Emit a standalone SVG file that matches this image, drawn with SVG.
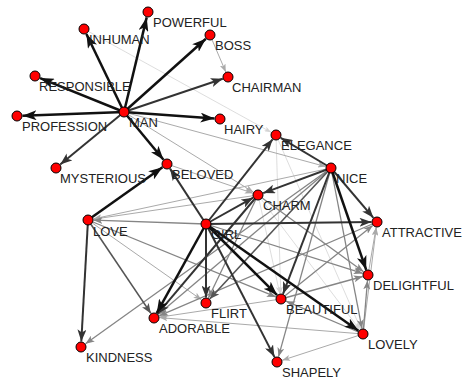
<svg xmlns="http://www.w3.org/2000/svg" width="469" height="380" viewBox="0 0 469 380">
<style>
.e{fill:none;stroke-linecap:butt}
.k1{stroke:#111;stroke-width:2.5;marker-end:url(#m1)}
.k2{stroke:#333;stroke-width:2;marker-end:url(#m2)}
.k3{stroke:#555;stroke-width:1.6;marker-end:url(#m3)}
.k3b{stroke:#858585;stroke-width:1.3;marker-end:url(#m3b)}
.k4{stroke:#aaa;stroke-width:1;marker-end:url(#m4)}
.k5{stroke:#d4d4d4;stroke-width:0.8;marker-end:url(#m5)}
.n circle{fill:#ff0000;stroke:#000;stroke-width:1}
.n text{font-family:"Liberation Sans",Arial,sans-serif;font-size:13px;fill:#222}
</style>
<defs>
<marker id="m1" markerUnits="userSpaceOnUse" orient="auto" markerWidth="14" markerHeight="10" refX="14" refY="5" viewBox="0 0 14 10"><path d="M0,0 L14,5 L0,10 L3.5,5 z" fill="#111"/></marker>
<marker id="m2" markerUnits="userSpaceOnUse" orient="auto" markerWidth="12" markerHeight="9" refX="12" refY="4.5" viewBox="0 0 12 9"><path d="M0,0 L12,4.5 L0,9 L3,4.5 z" fill="#333"/></marker>
<marker id="m3" markerUnits="userSpaceOnUse" orient="auto" markerWidth="10" markerHeight="8" refX="10" refY="4" viewBox="0 0 10 8"><path d="M0,0 L10,4 L0,8 L2.5,4 z" fill="#555"/></marker>
<marker id="m3b" markerUnits="userSpaceOnUse" orient="auto" markerWidth="9" markerHeight="7" refX="9" refY="3.5" viewBox="0 0 9 7"><path d="M0,0 L9,3.5 L0,7 L2.2,3.5 z" fill="#858585"/></marker>
<marker id="m4" markerUnits="userSpaceOnUse" orient="auto" markerWidth="8" markerHeight="6" refX="8" refY="3" viewBox="0 0 8 6"><path d="M0,0 L8,3 L0,6 L2,3 z" fill="#aaa"/></marker>
<marker id="m5" markerUnits="userSpaceOnUse" orient="auto" markerWidth="7" markerHeight="5" refX="7" refY="2.5" viewBox="0 0 7 5"><path d="M0,0 L7,2.5 L0,5 L1.8,2.5 z" fill="#d4d4d4"/></marker>
</defs>
<g id="edges">
<path class="e k5" d="M84,29 L271.2,132.3"/>
<path class="e k5" d="M276,135 L280.8,293.5"/>
<path class="e k5" d="M276,135 L360.8,329"/>
<path class="e k5" d="M258,195 L279.8,293.6"/>
<path class="e k5" d="M258,195 L359.7,329.6"/>
<path class="e k4" d="M88,220 L201.5,299.8"/>
<path class="e k4" d="M281,299 L159.4,317.2"/>
<path class="e k4" d="M363,334 L159.5,317.6"/>
<path class="e k4" d="M363,334 L282.2,360.3"/>
<path class="e k4" d="M363,334 L376.3,227.5"/>
<path class="e k4" d="M368,275 L376.1,227.4"/>
<path class="e k4" d="M210,35 L225.8,72"/>
<path class="e k4" d="M331,168 L93.4,218.9"/>
<path class="e k4" d="M258,195 L93.4,219.2"/>
<path class="e k4" d="M124,112 L325.7,166.6"/>
<path class="e k4" d="M124,112 L253.3,192.1"/>
<path class="e k4" d="M167,164 L252.8,193.2"/>
<path class="e k3b" d="M206,224 L362.8,273.4"/>
<path class="e k3b" d="M206,224 L93.5,220.2"/>
<path class="e k3b" d="M331,168 L362,328.6"/>
<path class="e k3b" d="M331,168 L85.5,343.8"/>
<path class="e k3b" d="M258,195 L208.4,298"/>
<path class="e k3b" d="M281,299 L362.7,276.5"/>
<path class="e k3b" d="M281,299 L372.7,225.4"/>
<path class="e k3b" d="M363,334 L286.1,301.2"/>
<path class="e k3b" d="M363,334 L367.5,280.5"/>
<path class="e k3b" d="M88,220 L275.9,296.9"/>
<path class="e k3b" d="M331,168 L158.2,314.4"/>
<path class="e k3b" d="M331,168 L278.5,356.7"/>
<path class="e k3b" d="M258,195 L363.6,271.8"/>
<path class="e k3b" d="M377,222 L159.1,315.8"/>
<path class="e k3" d="M88,220 L150.9,313.4"/>
<path class="e k3" d="M331,168 L209.7,299"/>
<path class="e k2" d="M124,112 L222.8,78.8"/>
<path class="e k2" d="M124,112 L60.2,164.5"/>
<path class="e k2" d="M88,220 L81.3,341.5"/>
<path class="e k2" d="M206,224 L274.5,357.1"/>
<path class="e k2" d="M206,224 L206,297.5"/>
<path class="e k2" d="M206,224 L371.5,222.1"/>
<path class="e k2" d="M206,224 L272.6,139.3"/>
<path class="e k2" d="M206,224 L253.2,197.7"/>
<path class="e k2" d="M331,168 L373.4,217.8"/>
<path class="e k2" d="M206,224 L170,168.6"/>
<path class="e k2" d="M331,168 L283,293.9"/>
<path class="e k2" d="M331,168 L263.2,193.1"/>
<path class="e k2" d="M331,168 L280.7,137.8"/>
<path class="e k2" d="M258,195 L157.6,313.8"/>
<path class="e k1" d="M124,112 L86.4,34"/>
<path class="e k1" d="M124,112 L146.7,17.4"/>
<path class="e k1" d="M124,112 L205.9,38.7"/>
<path class="e k1" d="M124,112 L214.5,118.6"/>
<path class="e k1" d="M124,112 L163.5,159.8"/>
<path class="e k1" d="M124,112 L40.1,78.1"/>
<path class="e k1" d="M124,112 L22.5,115.8"/>
<path class="e k1" d="M88,220 L162.5,167.2"/>
<path class="e k1" d="M206,224 L277.1,295.1"/>
<path class="e k1" d="M206,224 L156.7,313.2"/>
<path class="e k1" d="M331,168 L366.2,269.8"/>
<path class="e k1" d="M206,224 L358.5,330.8"/>
</g>
<g id="n-man" class="n"><circle cx="124" cy="112" r="5"/><text x="129" y="127">MAN</text></g>
<g id="n-inhuman" class="n"><circle cx="84" cy="29" r="5"/><text x="89" y="44">INHUMAN</text></g>
<g id="n-powerful" class="n"><circle cx="148" cy="12" r="5"/><text x="153" y="27">POWERFUL</text></g>
<g id="n-responsible" class="n"><circle cx="35" cy="76" r="5"/><text x="39" y="91">RESPONSIBLE</text></g>
<g id="n-profession" class="n"><circle cx="17" cy="116" r="5"/><text x="22" y="131">PROFESSION</text></g>
<g id="n-boss" class="n"><circle cx="210" cy="35" r="5"/><text x="215" y="50">BOSS</text></g>
<g id="n-chairman" class="n"><circle cx="228" cy="77" r="5"/><text x="232" y="92">CHAIRMAN</text></g>
<g id="n-hairy" class="n"><circle cx="220" cy="119" r="5"/><text x="224" y="134">HAIRY</text></g>
<g id="n-mysterious" class="n"><circle cx="56" cy="168" r="5"/><text x="60" y="183">MYSTERIOUS</text></g>
<g id="n-beloved" class="n"><circle cx="167" cy="164" r="5"/><text x="172" y="179">BELOVED</text></g>
<g id="n-elegance" class="n"><circle cx="276" cy="135" r="5"/><text x="281" y="150">ELEGANCE</text></g>
<g id="n-nice" class="n"><circle cx="331" cy="168" r="5"/><text x="336" y="183">NICE</text></g>
<g id="n-charm" class="n"><circle cx="258" cy="195" r="5"/><text x="263" y="210">CHARM</text></g>
<g id="n-love" class="n"><circle cx="88" cy="220" r="5"/><text x="93" y="236">LOVE</text></g>
<g id="n-girl" class="n"><circle cx="206" cy="224" r="5"/><text x="211" y="239">GIRL</text></g>
<g id="n-attractive" class="n"><circle cx="377" cy="222" r="5"/><text x="382" y="237">ATTRACTIVE</text></g>
<g id="n-flirt" class="n"><circle cx="206" cy="303" r="5"/><text x="211" y="318">FLIRT</text></g>
<g id="n-adorable" class="n"><circle cx="154" cy="318" r="5"/><text x="159" y="333">ADORABLE</text></g>
<g id="n-kindness" class="n"><circle cx="81" cy="347" r="5"/><text x="86" y="362">KINDNESS</text></g>
<g id="n-beautiful" class="n"><circle cx="281" cy="299" r="5"/><text x="286" y="314">BEAUTIFUL</text></g>
<g id="n-delightful" class="n"><circle cx="368" cy="275" r="5"/><text x="373" y="290">DELIGHTFUL</text></g>
<g id="n-lovely" class="n"><circle cx="363" cy="334" r="5"/><text x="368" y="349">LOVELY</text></g>
<g id="n-shapely" class="n"><circle cx="277" cy="362" r="5"/><text x="282" y="377">SHAPELY</text></g>
</svg>
